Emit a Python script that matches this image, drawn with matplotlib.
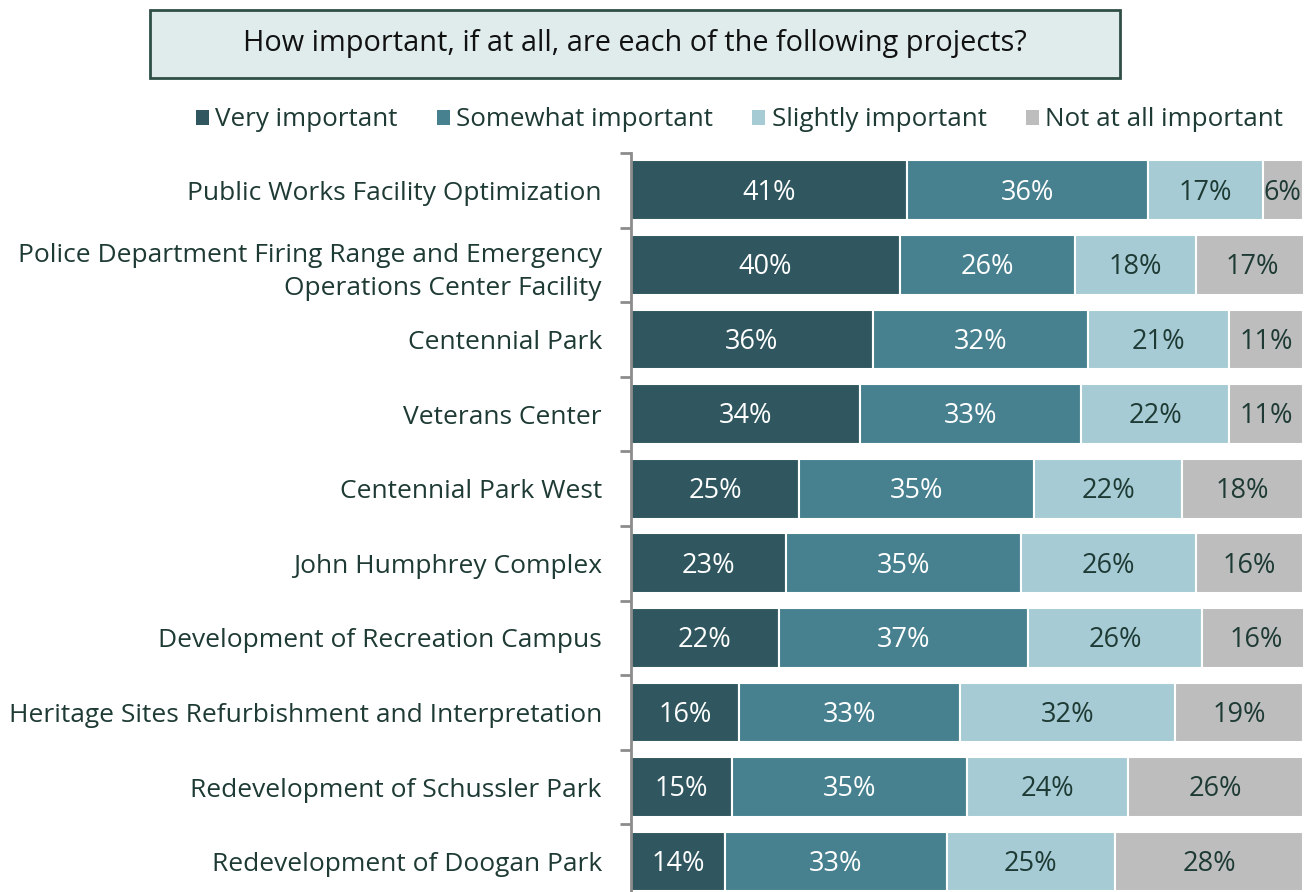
import numpy as np
import matplotlib.pyplot as plt
from matplotlib.patches import Patch, Rectangle

plt.rcParams['font.family'] = ['Open Sans', 'DejaVu Sans']

projects = [
    'Public Works Facility Optimization',
    'Police Department Firing Range and Emergency\nOperations Center Facility',
    'Centennial Park',
    'Veterans Center',
    'Centennial Park West',
    'John Humphrey Complex',
    'Development of Recreation Campus',
    'Heritage Sites Refurbishment and Interpretation',
    'Redevelopment of Schussler Park',
    'Redevelopment of Doogan Park',
]
very = [41, 40, 36, 34, 25, 23, 22, 16, 15, 14]
somewhat = [36, 26, 32, 33, 35, 35, 37, 33, 35, 33]
slightly = [17, 18, 21, 22, 22, 26, 26, 32, 24, 25]
not_at_all = [6, 17, 11, 11, 18, 16, 16, 19, 26, 28]

series_names = ['Very important', 'Somewhat important', 'Slightly important', 'Not at all important']
colors = ['#30575F', '#47818F', '#A6CBD4', '#BDBDBD']
label_colors = ['white', 'white', '#1E3A34', '#1E3A34']
text_color = '#1E3A34'

fig = plt.figure(figsize=(13.1, 8.92), dpi=100)
ax = fig.add_axes([0.4817, -0.0078, 0.513, 0.8363])

y = np.arange(len(projects))
left = np.zeros(len(projects))
for vals, col, lc in zip([very, somewhat, slightly, not_at_all], colors, label_colors):
    vals = np.array(vals, dtype=float)
    ax.barh(y, vals, left=left, height=0.8, color=col, edgecolor='white', linewidth=1.5)
    for yi, (l, v) in enumerate(zip(left, vals)):
        ax.text(l + v / 2, yi + 0.03, f'{int(v)}%', ha='center', va='center',
                color=lc, fontsize=19.5)
    left += vals

ax.set_xlim(0, 100)
ax.set_ylim(len(projects) - 0.5, -0.5)
ax.set_xticks([])
ax.set_yticks(y)
ax.set_yticklabels(projects, fontsize=19, color=text_color, linespacing=1.45)
ax.tick_params(axis='y', which='major', length=0, pad=21)
ax.set_yticks(np.arange(len(projects)) - 0.5, minor=True)
ax.tick_params(axis='y', which='minor', length=8, width=2, color='#8C8C8C')
for s in ['top', 'right', 'bottom']:
    ax.spines[s].set_visible(False)
ax.spines['left'].set_color('#8C8C8C')
ax.spines['left'].set_linewidth(2)

# title box
fig.patches.append(Rectangle((0.1145, 0.9126), 0.7405, 0.0762, transform=fig.transFigure,
                             facecolor='#E0ECEC', edgecolor='#2F4F46', linewidth=2))
fig.text(0.4847, 0.9507, 'How important, if at all, are each of the following projects?',
         ha='center', va='center', fontsize=20.8, color='#111111')

handles = [Patch(facecolor=c, edgecolor='none') for c in colors]
fig.legend(handles, series_names, loc='center', bbox_to_anchor=(0.5645, 0.8655), ncol=4,
           frameon=False, fontsize=18.7, handlelength=0.5, handleheight=0.5,
           handletextpad=0.25, columnspacing=1.5, labelcolor=text_color)

fig.savefig('out.png', dpi=100)
